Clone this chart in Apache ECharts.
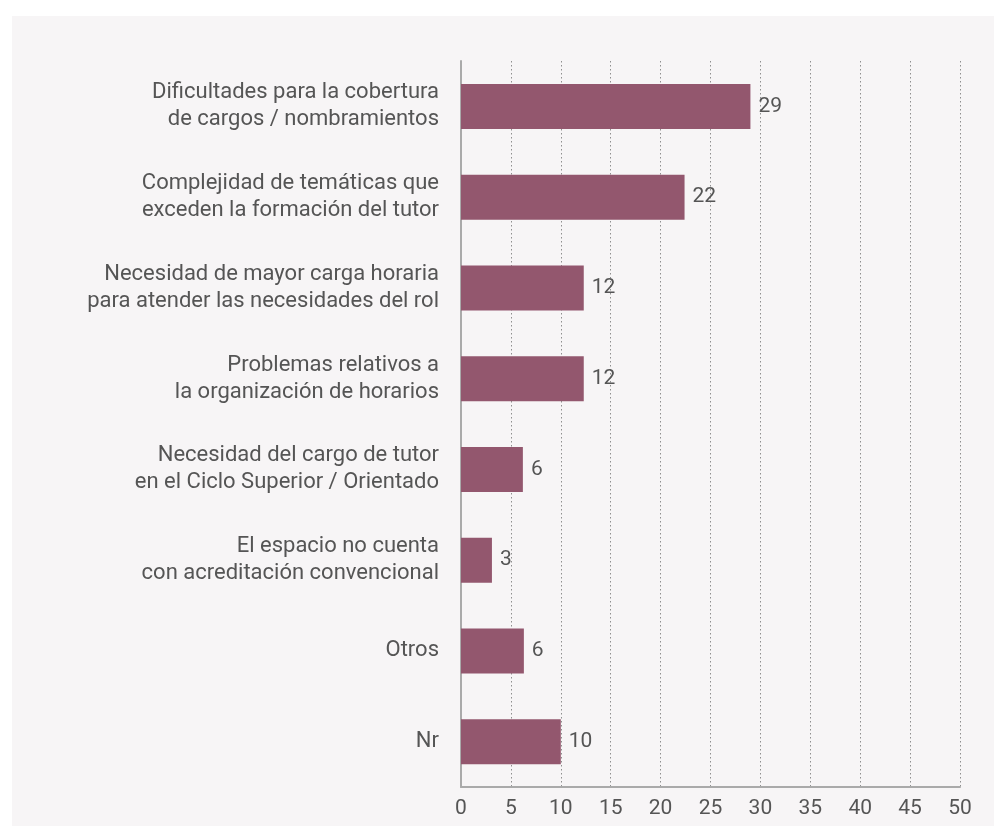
<!DOCTYPE html>
<html>
<head>
<meta charset="utf-8">
<script src="https://cdn.jsdelivr.net/npm/echarts@6/dist/echarts.min.js"></script>
<style>
  html, body { margin: 0; padding: 0; background: #ffffff; }
  #wrap { position: absolute; left: 12px; top: 16px; right: 0; bottom: 0; background: #f7f5f6; }
  #chart { position: absolute; left: 0; top: 0; width: 994px; height: 826px; }
</style>
</head>
<body>
<div id="wrap"></div>
<div id="chart"></div>
<script>
const categories = [
  "Dificultades para la cobertura\nde cargos / nombramientos",
  "Complejidad de temáticas que\nexceden la formación del tutor",
  "Necesidad de mayor carga horaria\npara atender las necesidades del rol",
  "Problemas relativos a\nla organización de horarios",
  "Necesidad del cargo de tutor\nen el Ciclo Superior / Orientado",
  "El espacio no cuenta\ncon acreditación convencional",
  "Otros",
  "Nr"
];
const values = [29.0, 22.4, 12.3, 12.3, 6.2, 3.1, 6.3, 10.0];
const valueLabels = ["29", "22", "12", "12", "6", "3", "6", "10"];
const xTicks = [0, 5, 10, 15, 20, 25, 30, 35, 40, 45, 50];

const chart = echarts.init(document.getElementById('chart'), null, { renderer: 'canvas' });
const font = 'Roboto, "Liberation Sans", sans-serif';
const numFont = '"Liberation Sans Narrow", Roboto, sans-serif';
chart.setOption({
  backgroundColor: 'transparent',
  animation: false,
  grid: { left: 461, right: 34, top: 61, bottom: 39, containLabel: false },
  xAxis: {
    type: 'value',
    min: xTicks[0],
    max: xTicks[xTicks.length - 1],
    interval: 5,
    axisLine: { show: true, lineStyle: { color: '#aaaaaa', width: 2 } },
    axisTick: { show: false },
    axisLabel: { color: '#555555', fontSize: 21, fontFamily: numFont, margin: 11 },
    splitLine: { show: true, lineStyle: { type: [1.5, 2.5], color: '#8f8f8f', width: 1 } }
  },
  yAxis: {
    type: 'category',
    data: categories,
    inverse: true,
    axisLine: { show: true, lineStyle: { color: '#aaaaaa', width: 2 } },
    axisTick: { show: false },
    axisLabel: { color: '#555555', fontSize: 22, fontFamily: font, margin: 22, lineHeight: 27, align: 'right' },
    splitLine: { show: false }
  },
  series: [{
    type: 'bar',
    data: values,
    barWidth: 45,
    itemStyle: { color: '#93576e' },
    label: {
      show: true,
      position: 'right',
      distance: 8,
      color: '#555555',
      fontSize: 21,
      fontFamily: numFont,
      formatter: p => valueLabels[p.dataIndex]
    }
  }]
});
</script>
</body>
</html>
